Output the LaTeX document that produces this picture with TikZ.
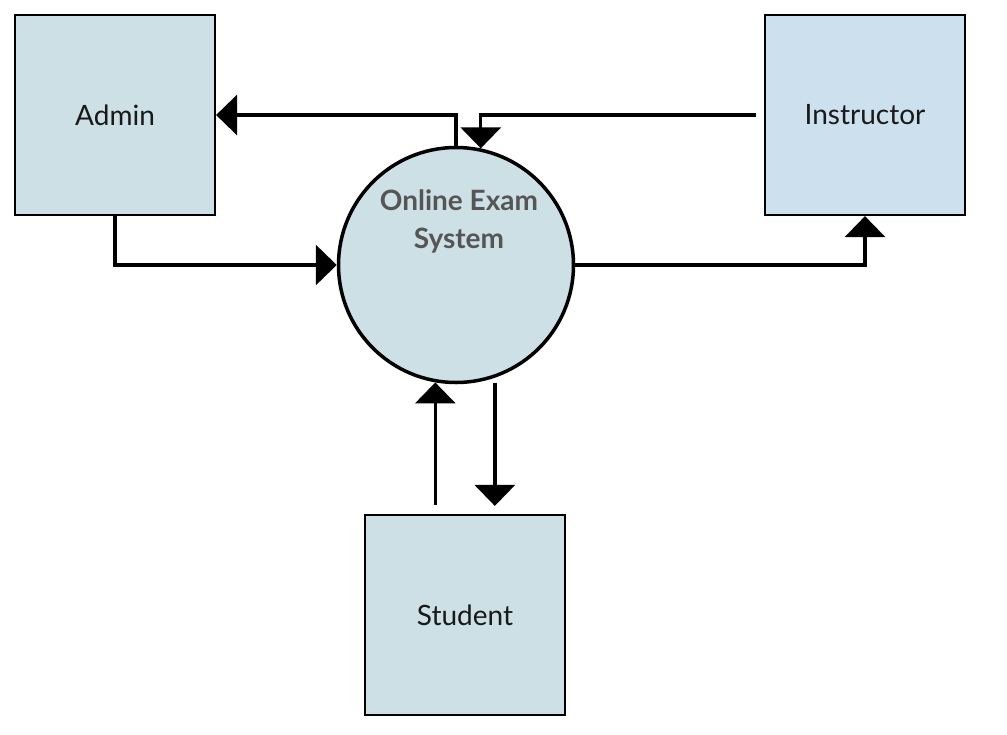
\documentclass[tikz,border=0pt]{standalone}
\usepackage{fontspec}
\setmainfont{Lato}
\usetikzlibrary{arrows.meta,calc}
\definecolor{adminfill}{RGB}{204,224,229}
\definecolor{instrfill}{RGB}{204,224,238}
\definecolor{systext}{RGB}{85,85,85}
\tikzset{
  entity/.style={draw=black, line width=2.2pt, minimum width=200pt, minimum height=200pt, inner sep=0pt, font=\fontsize{28}{32}\selectfont, text=black!90},
  procnode/.style={draw=black, line width=3.5pt, circle, minimum size=235pt, inner sep=0pt, fill=adminfill},
  flow/.style={line width=3.4pt, -{Triangle[length=21pt,width=40pt]}},
}
\begin{document}
\begin{tikzpicture}[x=1pt,y=-1pt]
\useasboundingbox (0,0) rectangle (1007,734);
\node[entity, fill=adminfill] (admin) at (115,115) {Admin};
\node[entity, fill=instrfill] (instr) at (865,115) {Instructor};
\node[entity, fill=adminfill] (student) at (465,615) {Student};
\node[procnode] (sys) at (456,265) {};
\node[align=center, font=\bfseries\fontsize{28}{38}\selectfont, text=systext] (systxt) at (459,221) {Online Exam\\System};
\coordinate (s1) at ($(student.north)+(-30,-9)$);
\coordinate (s2) at ($(student.north)+(30,-8)$);
% Process -> Admin
\draw[flow] (sys.north) |- (admin.east);
% Instructor -> Process
\draw[flow, shorten <=8pt] (instr.west) -| (sys.78);
% Admin -> Process
\draw[flow] (admin.south) |- (sys.west);
% Process -> Instructor
\draw[flow] (sys.east) -| (instr.south);
% Student -> Process
\draw[flow] (sys.-100 |- s1) -- (sys.-100);
% Process -> Student
\draw[flow, shorten <=5pt] (sys.-71) -- (sys.-71 |- s2);
\end{tikzpicture}
\end{document}
